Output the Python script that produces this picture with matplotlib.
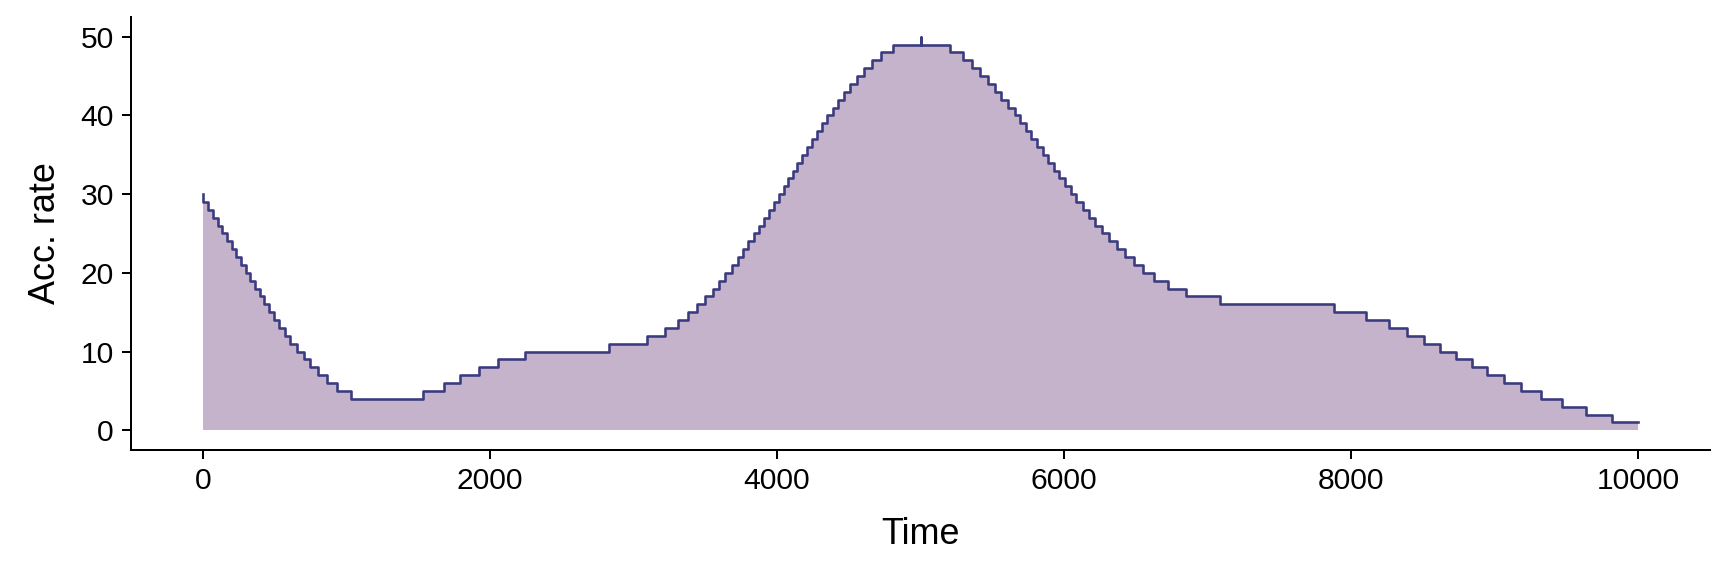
import numpy as np
import matplotlib.pyplot as plt

plt.rcParams['font.family'] = ['Liberation Sans', 'DejaVu Sans']

# start time of each step and the acceptance rate held from that time on
time = [0, 0, 39, 74, 104, 137, 169, 202, 234, 267, 299, 332, 364, 397, 429,
        464, 499, 533, 573, 610, 657, 703, 750, 805, 866, 935, 1033,
        1536, 1678, 1794, 1922, 2059, 2247, 2832, 3094, 3220, 3308, 3378,
        3443, 3498, 3552, 3598, 3640, 3684, 3726, 3763, 3800, 3837, 3874,
        3909, 3944, 3979, 4013, 4046, 4078, 4111, 4143, 4176, 4211, 4243,
        4278, 4315, 4352, 4390, 4427, 4468, 4510, 4557, 4603, 4659, 4724,
        4810, 5000, 5000,
        5207, 5293, 5362, 5416, 5467, 5518, 5564, 5611, 5655, 5693, 5734,
        5771, 5810, 5851, 5888, 5927, 5965, 6005, 6045, 6086, 6131, 6175,
        6217, 6261, 6314, 6367, 6423, 6484, 6551, 6625, 6722, 6852, 7085,
        7881, 8106, 8262, 8391, 8507, 8619, 8728, 8840, 8949, 9065, 9185,
        9320, 9471, 9633, 9814, 10000]
rate = [30, 29, 28, 27, 26, 25, 24, 23, 22, 21, 20, 19, 18, 17, 16,
        15, 14, 13, 12, 11, 10, 9, 8, 7, 6, 5, 4,
        5, 6, 7, 8, 9, 10, 11, 12, 13, 14, 15,
        16, 17, 18, 19, 20, 21, 22, 23, 24, 25, 26,
        27, 28, 29, 30, 31, 32, 33, 34, 35, 36, 37,
        38, 39, 40, 41, 42, 43, 44, 45, 46, 47, 48,
        49, 50, 49,
        48, 47, 46, 45, 44, 43, 42, 41, 40, 39, 38,
        37, 36, 35, 34, 33, 32, 31, 30, 29, 28, 27,
        26, 25, 24, 23, 22, 21, 20, 19, 18, 17, 16,
        15, 14, 13, 12, 11, 10, 9, 8, 7, 6, 5,
        4, 3, 2, 1, 1]

xticks = [0, 2000, 4000, 6000, 8000, 10000]
yticks = [0, 10, 20, 30, 40, 50]

fig = plt.figure(figsize=(12, 4), dpi=144)
ax = fig.add_axes([0.0758, 0.2188, 0.9138, 0.7517])

ax.fill_between(time, rate, 0, step='post', color='#c5b2cb', linewidth=0)
ax.step(time, rate, where='post', color='#3b3b80', linewidth=1.3)

ax.set_xlim(-500, 10500)
ax.set_ylim(-2.5, 52.5)
ax.set_xticks(xticks)
ax.set_yticks(yticks)

for s in ['top', 'right']:
    ax.spines[s].set_visible(False)
for s in ['left', 'bottom']:
    ax.spines[s].set_linewidth(1.0)

ax.tick_params(length=4.5, width=1.0, labelsize=15, pad=4, colors='black')
ax.set_xlabel('Time', fontsize=18, labelpad=11)
ax.set_ylabel('Acc. rate', fontsize=18, labelpad=9)

fig.savefig('out.png', dpi=144)
